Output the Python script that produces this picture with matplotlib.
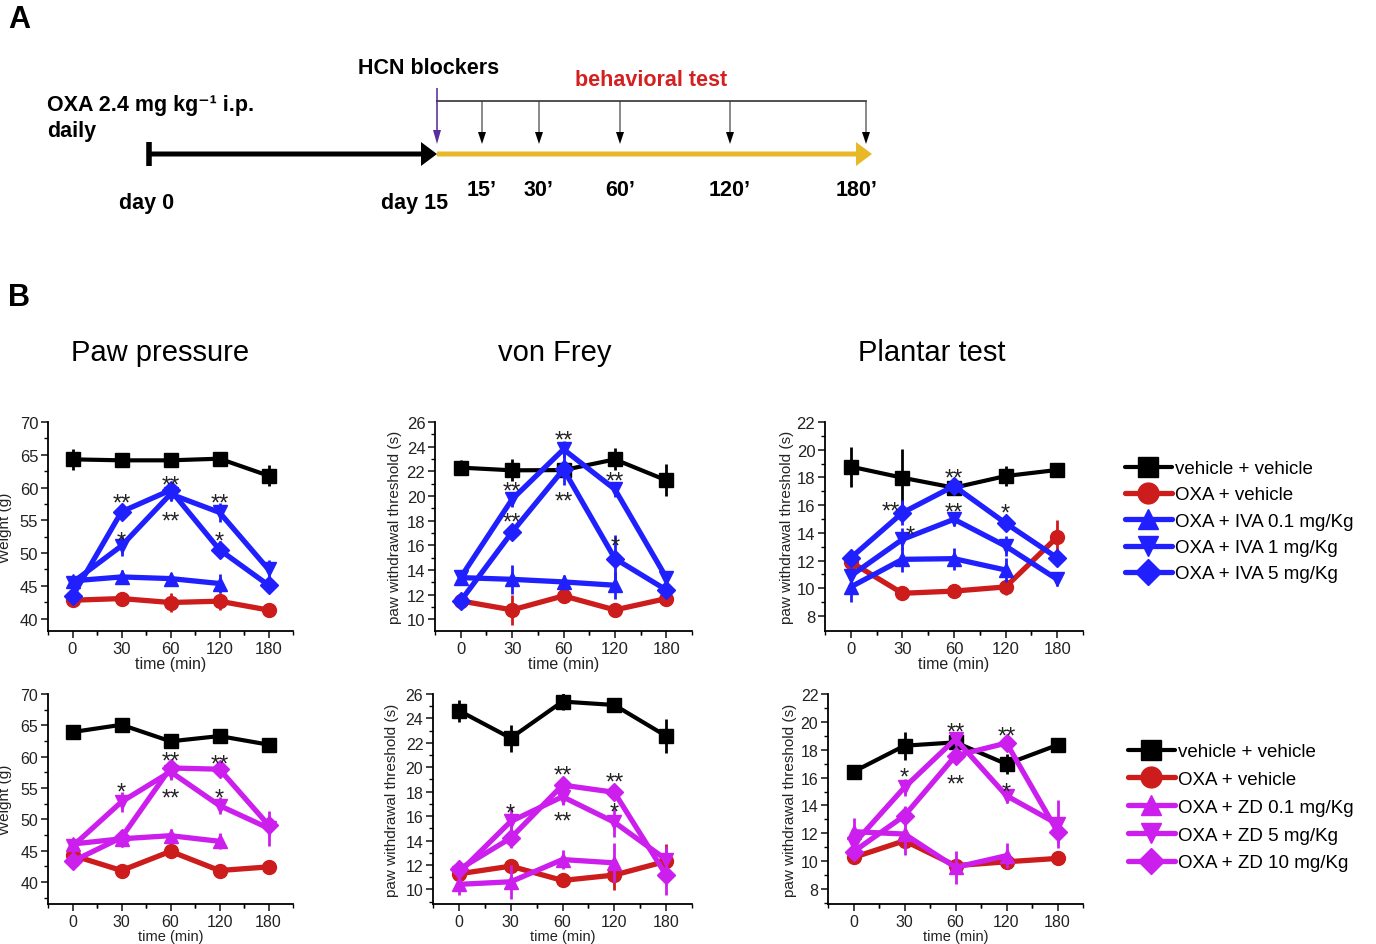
import matplotlib
matplotlib.use("Agg")
import matplotlib.pyplot as plt

plt.rcParams['font.family'] = ['Liberation Sans', 'DejaVu Sans']

# x axis: time points, drawn at equal spacing
time_labels = ['0', '30', '60', '120', '180']

groups_iva = ['vehicle + vehicle', 'OXA + vehicle', 'OXA + IVA 0.1 mg/Kg',
              'OXA + IVA 1 mg/Kg', 'OXA + IVA 5 mg/Kg']
groups_zd = ['vehicle + vehicle', 'OXA + vehicle', 'OXA + ZD 0.1 mg/Kg',
             'OXA + ZD 5 mg/Kg', 'OXA + ZD 10 mg/Kg']

# --- Paw pressure, IVA (Weight, g)
paw_iva_mean = [
    [64.3, 64.15, 64.15, 64.4, 61.8],
    [42.8, 43.05, 42.45, 42.65, 41.3],
    [45.75, 46.35, 46.1, 45.35],
    [45.5, 51.1, 59.0, 56.2, 47.5],
    [43.4, 56.3, 59.6, 50.5, 45.1],
]
paw_iva_err = [
    [1.6, 0.6, 0.6, 0.7, 1.6],
    [0.8, 0.8, 1.5, 1.3, 0.6],
    [0.8, 1.0, 0.8, 1.5],
    [0.8, 1.5, 1.0, 1.5, 1.5],
    [1.2, 1.0, 1.0, 1.3, 0.8],
]
paw_iva_stars = [(1, 58.7, '**'), (1, 52.9, '*'), (2, 61.4, '**'), (2, 55.9, '**'),
                 (3, 58.6, '**'), (3, 52.9, '*')]

# --- von Frey, IVA
vf_iva_mean = [
    [22.3, 22.08, 22.1, 22.97, 21.27],
    [11.49, 10.76, 11.9, 10.76, 11.68],
    [13.38, 13.24, 13.03, 12.76],
    [13.4, 19.73, 23.78, 20.54, 13.38],
    [11.49, 17.08, 22.16, 14.92, 12.38],
]
vf_iva_err = [
    [0.6, 0.9, 0.5, 0.9, 1.3],
    [0.4, 1.2, 0.6, 0.5, 0.6],
    [0.5, 1.2, 0.6, 1.1],
    [0.5, 0.6, 0.7, 0.6, 0.5],
    [0.4, 0.6, 1.3, 1.9, 0.5],
]
vf_iva_stars = [(1, 20.95, '**'), (1, 18.4, '**'), (2, 25.1, '**'), (2, 20.1, '**'),
                (3, 21.75, '**'), (3, 16.5, '*')]

# --- Plantar test, IVA
pl_iva_mean = [
    [18.78, 17.98, 17.26, 18.1, 18.54],
    [11.9, 9.64, 9.8, 10.1, 13.7],
    [10.1, 12.09, 12.14, 11.32],
    [10.9, 13.53, 14.98, 13.05, 10.65],
    [12.2, 15.45, 17.38, 14.7, 12.2],
]
pl_iva_err = [
    [1.45, 2.1, 0.4, 0.7, 0.5],
    [0.6, 0.3, 0.3, 0.6, 1.2],
    [1.1, 0.9, 0.8, 0.9],
    [0.6, 0.8, 0.5, 0.7, 0.5],
    [0.4, 0.9, 0.5, 0.5, 0.5],
]
pl_iva_stars = [(0.77, 16.06, '**'), (1.16, 14.3, '*'), (2, 18.46, '**'), (2, 15.98, '**'),
                (3, 15.94, '*')]

# --- Paw pressure, ZD
paw_zd_mean = [
    [63.93, 65.09, 62.45, 63.29, 61.92],
    [44.27, 41.84, 44.9, 41.84, 42.42],
    [46.07, 46.9, 47.4, 46.5],
    [45.7, 52.8, 57.6, 52.2, 48.6],
    [43.3, 47.1, 58.2, 58.0, 49.1],
]
paw_zd_err = [
    [0.9, 0.7, 0.8, 0.6, 0.5],
    [0.6, 0.6, 0.7, 0.6, 0.6],
    [1.0, 1.2, 1.0, 1.3],
    [1.0, 1.6, 1.3, 1.3, 2.8],
    [0.8, 0.9, 1.0, 0.8, 1.0],
]
paw_zd_stars = [(1, 55.5, '*'), (2, 60.33, '**'), (2, 54.5, '**'), (3, 59.96, '**'),
                (3, 54.5, '*')]

# --- von Frey, ZD
vf_zd_mean = [
    [24.64, 22.39, 25.38, 25.1, 22.56],
    [11.27, 11.9, 10.73, 11.17, 12.3],
    [10.41, 10.62, 12.44, 12.17],
    [11.36, 15.56, 17.59, 15.5, 12.44],
    [11.63, 14.2, 18.54, 17.95, 11.17],
]
vf_zd_err = [
    [0.9, 1.1, 0.7, 0.4, 1.4],
    [0.4, 0.4, 0.4, 1.2, 1.4],
    [0.9, 1.4, 0.8, 1.6],
    [0.6, 1.2, 0.7, 1.2, 1.1],
    [0.6, 0.8, 0.6, 0.5, 1.6],
]
vf_zd_stars = [(1, 16.78, '*'), (2, 19.9, '**'), (2, 16.16, '**'), (3, 19.36, '**'),
               (3, 16.9, '*')]

# --- Plantar test, ZD
pl_zd_mean = [
    [16.42, 18.29, 18.53, 16.97, 18.34],
    [10.27, 11.47, 9.68, 9.96, 10.2],
    [12.12, 11.95, 9.56, 10.4],
    [11.23, 15.3, 18.77, 14.7, 12.67],
    [10.68, 13.27, 17.57, 18.48, 12.12],
]
pl_zd_err = [
    [0.4, 1.0, 0.5, 0.7, 0.4],
    [0.4, 0.5, 0.4, 0.4, 0.5],
    [1.0, 1.5, 1.2, 0.9],
    [0.5, 0.6, 0.5, 0.5, 1.7],
    [0.4, 0.7, 0.6, 0.5, 0.8],
]
pl_zd_stars = [(1, 16.5, '*'), (2, 19.73, '**'), (2, 16.0, '**'), (3, 19.5, '**'),
               (3, 15.47, '*')]

# panel A timeline
timepoint_labels = ['15’', '30’', '60’', '120’', '180’']

W, H = 1376, 945
BLACK = '#000000'
RED = '#cc1c1c'
BLUE = '#2020ff'
MAGENTA = '#cc1fee'
MARKERS = ['s', 'o', '^', 'v', 'D']


def fx(px):
    return px / W


def fy(py):
    return 1 - py / H


def draw_panel(ax, means, errs, stars, colors, ylim, yticks, yminor, ylabel,
               ylabel_x, tick_fs, xlabel_fs):
    handles = []
    for i, (m, e) in enumerate(zip(means, errs)):
        x = list(range(len(m)))
        c = colors[i]
        lw = 3 if i == 0 else 3.8
        ax.errorbar(x, m, yerr=e, fmt='none', ecolor=c, elinewidth=2, capsize=0, zorder=2 + i)
        ms = 10 if MARKERS[i] != 'D' else 9
        ln, = ax.plot(x, m, color=c, lw=lw, marker=MARKERS[i], ms=ms, mec=c, mfc=c,
                      solid_capstyle='round', zorder=2 + i)
        handles.append(ln)
    for sx, sy, st in stars:
        ax.annotate(st, (sx, sy), xytext=(0, -9.5), textcoords='offset points',
                    ha='center', va='baseline', fontsize=17, color='#222222', zorder=10)
    ax.set_xlim(-0.5, 4.5)
    ax.set_ylim(*ylim)
    ax.set_xticks(range(5))
    ax.set_xticklabels(time_labels)
    ax.set_xticks([-0.5 + k for k in range(6)] + [k + 0.5 for k in range(4)], minor=True)
    ax.set_yticks(yticks)
    ax.set_yticks(yminor, minor=True)
    for s in ['top', 'right']:
        ax.spines[s].set_visible(False)
    for s in ['left', 'bottom']:
        ax.spines[s].set_linewidth(1.3)
    ax.tick_params(which='major', direction='out', length=5, width=1.2,
                   labelsize=tick_fs, colors='#222222', pad=2)
    ax.tick_params(which='minor', direction='out', length=3, width=1.0)
    ax.set_xlabel('time (min)', fontsize=xlabel_fs, labelpad=0, color='#222222')
    ax.set_ylabel(ylabel, fontsize=11, color='#222222')
    ax.yaxis.set_label_coords(ylabel_x, 0.5)
    return handles


def draw_timeline(fig):
    ax = fig.add_axes([0, 0, 1, 1])
    ax.set_xlim(0, W)
    ax.set_ylim(H, 0)
    ax.axis('off')

    ax.text(8, 20, 'A', fontsize=22, fontweight='bold', va='center', ha='left')
    ax.text(8, 298, 'B', fontsize=22, fontweight='bold', va='center', ha='left')

    # OXA treatment arrow
    ax.plot([149, 149], [143, 167], color='black', lw=4, solid_capstyle='butt')
    ax.arrow(149, 155, 288, 0, width=5, head_width=24, head_length=16,
             length_includes_head=True, color='black', lw=0)
    # behavioural test period
    ax.arrow(437, 155, 435, 0, width=5, head_width=24, head_length=16,
             length_includes_head=True, color='#e8b828', lw=0)
    # HCN blockers injection
    ax.arrow(437, 89, 0, 56, width=1.6, head_width=8, head_length=14,
             length_includes_head=True, color='#5a2d9c', lw=0)
    # test timepoints
    tp_x = [482, 539, 620, 730, 866]
    ax.plot([437, 866], [102, 102], color='#333333', lw=1.2)
    for x in tp_x:
        ax.arrow(x, 102, 0, 43, width=0.9, head_width=8, head_length=12,
                 length_includes_head=True, color='black', lw=0)
    label_x = [482, 538, 620, 730, 857]
    for x, t in zip(label_x, timepoint_labels):
        ax.text(x, 190, t, fontsize=15.5, fontweight='bold', ha='center', va='center')

    ax.text(147, 203, 'day 0', fontsize=15.5, fontweight='bold', ha='center', va='center')
    ax.text(415, 203, 'day 15', fontsize=15.5, fontweight='bold', ha='center', va='center')
    ax.text(429, 68, 'HCN blockers', fontsize=15.5, fontweight='bold', ha='center', va='center')
    ax.text(651, 80, 'behavioral test', fontsize=15.5, fontweight='bold', ha='center',
            va='center', color='#d42020')
    ax.text(47, 105, 'OXA 2.4 mg kg⁻¹ i.p.', fontsize=15.5, fontweight='bold',
            ha='left', va='center')
    ax.text(47, 131, 'daily', fontsize=15.5, fontweight='bold', ha='left', va='center')


def main():
    fig = plt.figure(figsize=(13.76, 9.45), dpi=100)

    draw_timeline(fig)

    top_b, top_h = fy(632), 209 / H
    bot_b, bot_h = fy(905), 210 / H

    iva_colors = [BLACK, RED, BLUE, BLUE, BLUE]
    zd_colors = [BLACK, RED, MAGENTA, MAGENTA, MAGENTA]

    ax1 = fig.add_axes([fx(48), top_b, 245 / W, top_h])
    h_iva = draw_panel(ax1, paw_iva_mean, paw_iva_err, paw_iva_stars, iva_colors,
                       (38.1, 70), range(40, 71, 5), [42.5 + 5 * k for k in range(6)],
                       'Weight (g)', -0.147, 12, 11.5)
    ax2 = fig.add_axes([fx(435), top_b, 257 / W, top_h])
    draw_panel(ax2, vf_iva_mean, vf_iva_err, vf_iva_stars, iva_colors,
               (9.05, 26), range(10, 27, 2), [11 + 2 * k for k in range(8)],
               'paw withdrawal threshold (s)', -0.13, 12, 11.5)
    ax3 = fig.add_axes([fx(825), top_b, 258 / W, top_h])
    draw_panel(ax3, pl_iva_mean, pl_iva_err, pl_iva_stars, iva_colors,
               (6.92, 22), range(8, 23, 2), [9 + 2 * k for k in range(7)],
               'paw withdrawal threshold (s)', -0.12, 12, 11.5)

    ax4 = fig.add_axes([fx(48), bot_b, 245 / W, bot_h])
    h_zd = draw_panel(ax4, paw_zd_mean, paw_zd_err, paw_zd_stars, zd_colors,
                      (36.5, 70), range(40, 71, 5), [37.5 + 5 * k for k in range(7)],
                      'Weight (g)', -0.147, 11.5, 10.5)
    ax5 = fig.add_axes([fx(433), bot_b, 259 / W, bot_h])
    draw_panel(ax5, vf_zd_mean, vf_zd_err, vf_zd_stars, zd_colors,
               (8.8, 26), range(10, 27, 2), [9 + 2 * k for k in range(9)],
               'paw withdrawal threshold (s)', -0.13, 11.5, 10.5)
    ax6 = fig.add_axes([fx(828), bot_b, 255 / W, bot_h])
    draw_panel(ax6, pl_zd_mean, pl_zd_err, pl_zd_stars, zd_colors,
               (6.93, 22), range(8, 23, 2), [7 + 2 * k for k in range(8)],
               'paw withdrawal threshold (s)', -0.12, 11.5, 10.5)

    # column titles
    for x, t in zip([160, 555, 932], ['Paw pressure', 'von Frey', 'Plantar test']):
        fig.text(fx(x), fy(353), t, fontsize=21, ha='center', va='center')

    # legends
    fig.legend(h_iva, groups_iva, loc='upper left', bbox_to_anchor=(fx(1125), fy(461)),
               frameon=False, fontsize=13.5, handlelength=2.5, handletextpad=0.15,
               labelspacing=0.49, markerscale=1.5, borderpad=0, borderaxespad=0)
    fig.legend(h_zd, groups_zd, loc='upper left', bbox_to_anchor=(fx(1128), fy(744)),
               frameon=False, fontsize=13.5, handlelength=2.5, handletextpad=0.15,
               labelspacing=0.57, markerscale=1.5, borderpad=0, borderaxespad=0)

    fig.savefig('out.png', dpi=100)


if __name__ == "__main__":
    main()
